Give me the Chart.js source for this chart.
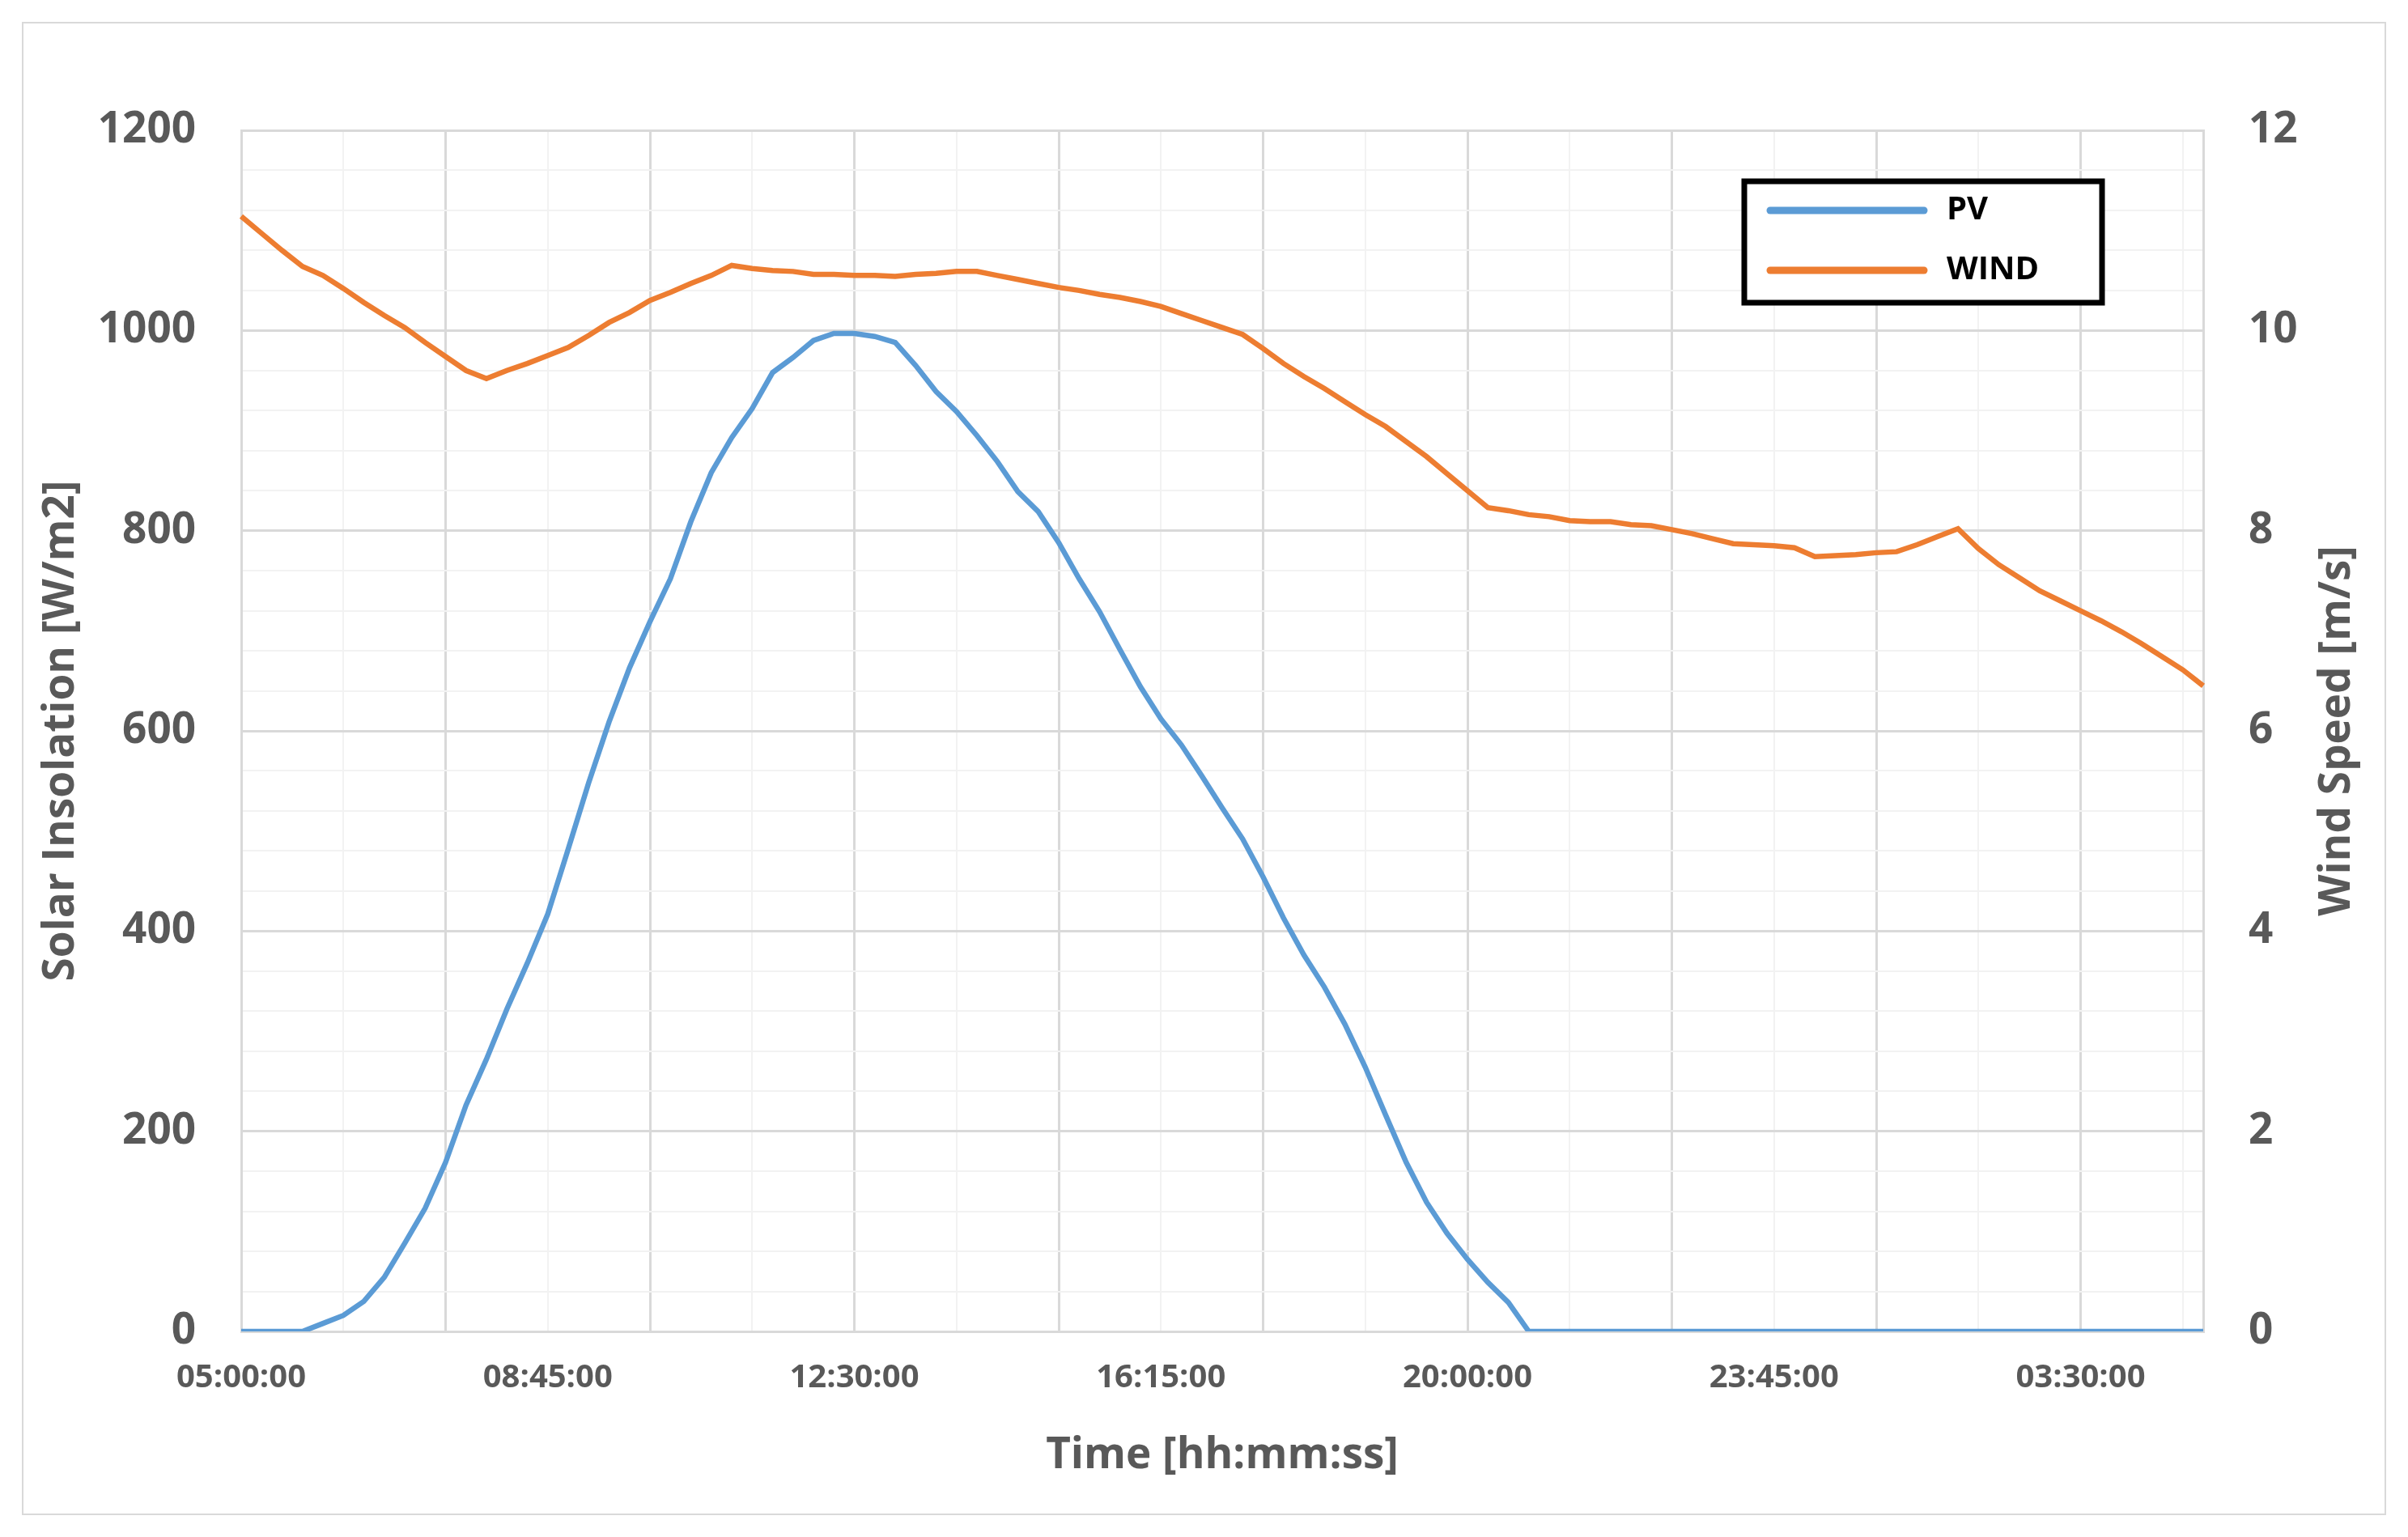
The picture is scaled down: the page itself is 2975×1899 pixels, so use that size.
<!DOCTYPE html>
<html><head><meta charset="utf-8">
<script src="https://cdn.jsdelivr.net/npm/chart.js@4"></script>
<style>html,body{margin:0;padding:0;background:#fff}#w{width:2975px;height:1899px}</style>
</head><body><div id="w"><canvas id="c"></canvas></div>
<script>
const timeLabels = [];
for (let i = 0; i < 97; i++) {
  const m = (5 * 60 + i * 15) % (24 * 60);
  timeLabels.push(String(Math.floor(m / 60)).padStart(2, '0') + ':' + String(m % 60).padStart(2, '0') + ':00');
}
const pvValues = [0,0,0,0,8,16,30,54,88,123,169,226,272,322,368,417,482,548,609,663,709,752,809,858,893,922,958,973,990,997,997,994,988,965,939,919,895,869,839,819,788,752,719,681,644,612,586,555,523,492,454,413,376,344,307,264,216,169,129,98,72,49,29,0,
0,0,0,0,0,0,0,0,0,0,0,0,0,0,0,0,0,0,0,0,0,0,0,0,0,0,0,0,0,0,0,0,0,0];
const windValues = [11.14,10.97,10.80,10.64,10.55,10.42,10.28,10.15,10.03,9.88,9.74,9.60,9.52,9.60,9.67,9.75,9.83,9.95,10.08,10.18,10.30,10.38,10.47,10.55,10.65,10.62,10.60,10.59,10.56,10.56,10.55,10.55,10.54,10.56,10.57,10.59,10.59,10.55,10.51,10.47,10.43,10.40,10.36,10.33,10.29,10.24,10.17,10.10,10.03,9.96,9.82,9.67,9.54,9.42,9.29,9.16,9.04,8.89,8.74,8.57,8.40,8.23,8.20,8.16,8.14,8.10,8.09,8.09,8.06,8.05,8.01,7.97,7.92,7.87,7.86,7.85,7.83,7.74,7.75,7.76,7.78,7.79,7.86,7.94,8.02,7.82,7.66,7.53,7.40,7.30,7.20,7.10,6.99,6.87,6.74,6.61,6.45];
const seriesNames = ['PV', 'WIND'];
const colors = ['#5B9BD5', '#ED7D31'];
const rightTitle = 'Wind Speed [m/s]';

const FONT = '"Open Sans", "Liberation Sans", sans-serif';
const GRAY = '#595959';

const frame = {
  id: 'frame',
  beforeDraw(chart) {
    const ctx = chart.ctx;
    ctx.save();
    ctx.fillStyle = '#fff';
    ctx.fillRect(0, 0, chart.width, chart.height);
    ctx.strokeStyle = '#d9d9d9';
    ctx.lineWidth = 2;
    ctx.strokeRect(28, 28, chart.width - 56, chart.height - 56);
    ctx.restore();
  },
  afterDraw(chart) {
    const ctx = chart.ctx;
    ctx.save();
    const bx = 2155, by = 224, bw = 442, bh = 150;
    ctx.fillStyle = '#fff';
    ctx.fillRect(bx, by, bw, bh);
    ctx.strokeStyle = '#000';
    ctx.lineWidth = 7;
    ctx.strokeRect(bx, by, bw, bh);
    ctx.lineCap = 'round';
    ctx.font = 'bold 40px ' + FONT;
    ctx.textBaseline = 'middle';
    seriesNames.forEach((n, k) => {
      const y = 260 + k * 74;
      ctx.strokeStyle = colors[k];
      ctx.lineWidth = 9;
      ctx.beginPath(); ctx.moveTo(2187, y); ctx.lineTo(2377, y); ctx.stroke();
      ctx.fillStyle = '#000';
      ctx.fillText(n, 2405, y);
    });
    // right axis title, reading bottom to top
    const a = chart.chartArea;
    ctx.translate(2888, (a.top + a.bottom) / 2);
    ctx.rotate(-Math.PI / 2);
    ctx.textAlign = 'center';
    ctx.fillStyle = GRAY;
    ctx.font = 'bold 53px ' + FONT;
    ctx.fillText(rightTitle, 0, 0);
    ctx.restore();
  }
};

new Chart(document.getElementById('c'), {
  type: 'line',
  data: {
    labels: timeLabels,
    datasets: [
      { label: seriesNames[0], data: pvValues, borderColor: colors[0], backgroundColor: colors[0], borderWidth: 6.5, pointRadius: 0, yAxisID: 'y', tension: 0 },
      { label: seriesNames[1], data: windValues, borderColor: colors[1], backgroundColor: colors[1], borderWidth: 6.5, pointRadius: 0, yAxisID: 'y2', tension: 0 }
    ]
  },
  options: {
    responsive: true, maintainAspectRatio: false, animation: false,
    layout: { padding: { left: 40, right: 40, top: 161, bottom: 64 } },
    plugins: { legend: { display: false }, tooltip: { enabled: false } },
    scales: {
      x: {
        offset: false,
        afterFit(s) { s.height = 190; },
        grid: {
          color: c => (c.index % 10 === 0 ? '#d9d9d9' : (c.index % 5 === 0 ? '#f2f2f2' : 'rgba(0,0,0,0)')),
          lineWidth: c => (c.index % 10 === 0 ? 3 : 2),
          drawTicks: false
        },
        border: { color: '#d9d9d9', width: 3 },
        ticks: {
          autoSkip: false, maxRotation: 0, minRotation: 0, padding: 34,
          color: GRAY, font: { family: FONT, size: 40, weight: 'bold' },
          callback(v, i) { return i % 15 === 0 ? this.getLabelForValue(v) : ''; }
        },
        title: { display: true, text: 'Time [hh:mm:ss]', color: GRAY, font: { family: FONT, size: 53, weight: 'bold' }, padding: { top: 8 } }
      },
      y: {
        position: 'left', min: 0, max: 1200,
        afterFit(s) { s.width = 258; },
        grid: {
          color: c => (c.tick && c.tick.value % 200 === 0 ? '#d9d9d9' : '#f2f2f2'),
          lineWidth: c => (c.tick && c.tick.value % 200 === 0 ? 3 : 2),
          drawTicks: false
        },
        border: { color: '#d9d9d9', width: 3 },
        ticks: {
          stepSize: 40, autoSkip: false, padding: 56,
          color: GRAY, font: { family: FONT, size: 53, weight: 'bold' },
          callback: v => (v % 200 === 0 ? v : '')
        },
        title: { display: true, text: 'Solar Insolation [W/m2]', color: GRAY, font: { family: FONT, size: 53, weight: 'bold' }, padding: { bottom: 10 } }
      },
      y2: {
        position: 'right', min: 0, max: 12,
        afterFit(s) { s.width = 213; },
        grid: { display: false, drawTicks: false },
        border: { color: '#d9d9d9', width: 3 },
        ticks: { stepSize: 2, padding: 56, color: GRAY, font: { family: FONT, size: 53, weight: 'bold' } },
        title: { display: false }
      }
    }
  },
  plugins: [frame]
});
</script></body></html>
